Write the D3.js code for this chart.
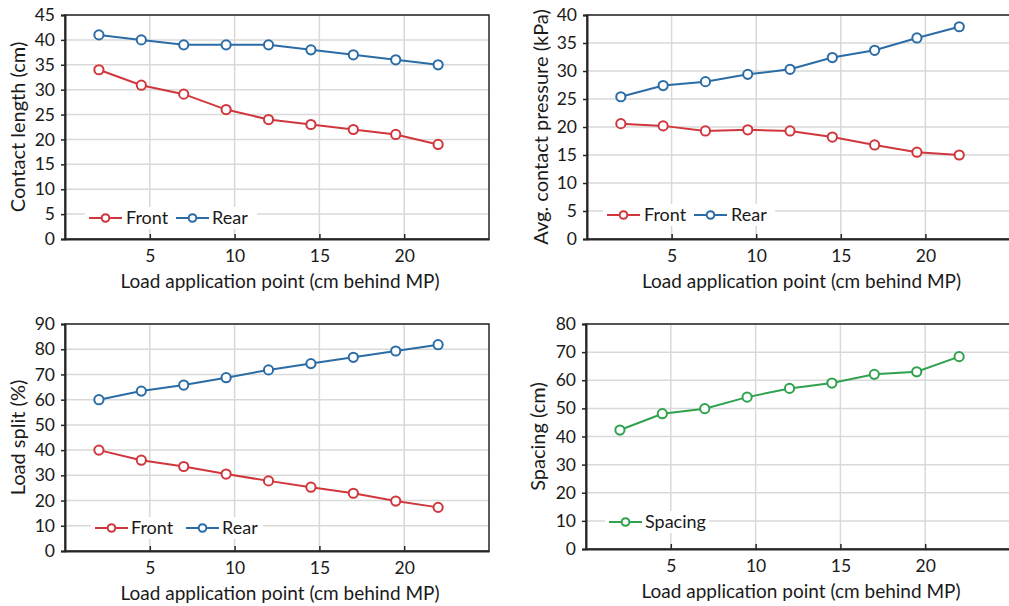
<!DOCTYPE html>
<html>
<head>
<meta charset="utf-8">
<script src="https://cdn.jsdelivr.net/npm/d3@7"></script>
<style>
  html, body { margin: 0; padding: 0; background: #fff; }
  svg { display: block; font-family: Lato, "Open Sans", sans-serif; }
</style>
</head>
<body>
<svg id="chart" width="1009" height="606"></svg>
<script>
// ---------- data ----------
const loadPoints = [2, 4.5, 7, 9.5, 12, 14.5, 17, 19.5, 22];
const xTicks = [5, 10, 15, 20];
const xTitle = "Load application point (cm behind MP)";

const contactFront = [34, 30.9, 29.1, 26, 24, 23, 22, 21, 19];
const contactRear  = [41, 40, 39, 39, 39, 38, 37, 36, 35];
const contactTicks = [0, 5, 10, 15, 20, 25, 30, 35, 40, 45];

const pressureFront = [20.6, 20.2, 19.3, 19.5, 19.3, 18.2, 16.8, 15.5, 15.0];
const pressureRear  = [25.4, 27.4, 28.1, 29.4, 30.3, 32.4, 33.7, 35.9, 37.9];
const pressureTicks = [0, 5, 10, 15, 20, 25, 30, 35, 40];

const splitFront = [40, 36, 33.5, 30.5, 27.8, 25.3, 22.9, 19.8, 17.3];
const splitRear  = [60, 63.4, 65.8, 68.7, 71.8, 74.3, 76.8, 79.3, 81.8];
const splitTicks = [0, 10, 20, 30, 40, 50, 60, 70, 80, 90];

const spacingValues = [42.3, 48.1, 49.9, 54, 57.1, 59, 62.1, 63, 68.4];
const spacingTicks = [0, 10, 20, 30, 40, 50, 60, 70, 80];

const seriesNames = ["Front", "Rear", "Spacing"];
const yTitles = ["Contact length (cm)", "Avg. contact pressure (kPa)", "Load split (%)", "Spacing (cm)"];

// ---------- style ----------
const RED = "#d0373c", BLUE = "#2b6ca6", GREEN = "#2fa24e";
const TEXT = "#1a1a1a", GRID = "#d9d9d9", AXIS = "#262626";

const svg = d3.select("#chart");

const panels = [
  { box: {l: 65, t: 15, r: 489, b: 239}, ticks: contactTicks, title: yTitles[0], titleX: 18,
    series: [{name: seriesNames[0], values: contactFront, color: RED}, {name: seriesNames[1], values: contactRear, color: BLUE}],
    legend: {x: 85, y: 218, w: 172, items: [{lx: 89, tx: 126}, {lx: 176, tx: 212}]} },
  { box: {l: 587, t: 15, r: 1010, b: 239}, ticks: pressureTicks, title: yTitles[1], titleX: 541,
    series: [{name: seriesNames[0], values: pressureFront, color: RED}, {name: seriesNames[1], values: pressureRear, color: BLUE}],
    legend: {x: 603, y: 215, w: 172, items: [{lx: 607, tx: 644}, {lx: 694, tx: 731}]} },
  { box: {l: 65, t: 324, r: 489, b: 551}, ticks: splitTicks, title: yTitles[2], titleX: 18,
    series: [{name: seriesNames[0], values: splitFront, color: RED}, {name: seriesNames[1], values: splitRear, color: BLUE}],
    legend: {x: 91, y: 528, w: 172, items: [{lx: 95, tx: 131}, {lx: 186, tx: 222}]} },
  { box: {l: 586, t: 324, r: 1010, b: 549}, ticks: spacingTicks, title: yTitles[3], titleX: 538,
    series: [{name: seriesNames[2], values: spacingValues, color: GREEN}],
    legend: {x: 605, y: 522, w: 104, items: [{lx: 609, tx: 645}]} }
];

panels.forEach(p => {
  const {l, t, r, b} = p.box;
  const g = svg.append("g");
  const x = d3.scaleLinear().domain([0, 25]).range([l, r]);
  const y = d3.scaleLinear().domain([0, d3.max(p.ticks)]).range([b, t]);

  g.append("g").selectAll("line").data(p.ticks.filter(v => v > 0)).join("line")
    .attr("x1", l).attr("x2", r).attr("y1", d => y(d)).attr("y2", d => y(d))
    .attr("stroke", GRID).attr("stroke-width", 1.5);
  g.append("g").selectAll("line").data(xTicks).join("line")
    .attr("x1", d => x(d)).attr("x2", d => x(d)).attr("y1", t).attr("y2", b)
    .attr("stroke", GRID).attr("stroke-width", 1.5);

  g.append("rect").attr("x", l).attr("y", t).attr("width", r - l).attr("height", b - t)
    .attr("fill", "none").attr("stroke", AXIS).attr("stroke-width", 1.5);

  const yAxis = d3.axisLeft(y).tickValues(p.ticks).tickSize(4).tickPadding(6).tickFormat(d3.format("d"));
  const ya = g.append("g").attr("transform", `translate(${l},0)`).call(yAxis);
  ya.select(".domain").attr("stroke", AXIS).attr("stroke-width", 2);
  ya.selectAll(".tick line").attr("stroke", AXIS).attr("stroke-width", 1.5);
  ya.selectAll(".tick text").attr("fill", TEXT).style("font-size", "17.5px").style("font-family", "Lato");

  const xAxis = d3.axisBottom(x).tickValues(xTicks).tickSize(-5).tickPadding(11).tickSizeOuter(0);
  const xa = g.append("g").attr("transform", `translate(0,${b})`).call(xAxis);
  xa.select(".domain").attr("stroke", AXIS).attr("stroke-width", 2);
  xa.selectAll(".tick line").attr("stroke", AXIS).attr("stroke-width", 1.5);
  xa.selectAll(".tick text").attr("fill", TEXT).style("font-size", "17.5px").style("font-family", "Lato");

  g.append("text").attr("x", (l + r) / 2 + 3).attr("y", b + 49).attr("text-anchor", "middle")
    .attr("fill", TEXT).style("font-size", "19px").text(xTitle);
  g.append("text").attr("transform", `translate(${p.titleX},${(t + b) / 2}) rotate(-90)`)
    .attr("text-anchor", "middle").attr("dy", "0.35em")
    .attr("fill", TEXT).style("font-size", "20px").text(p.title);

  const line = d3.line().x((d, i) => x(loadPoints[i])).y(d => y(d));
  p.series.forEach(s => {
    g.append("path").datum(s.values).attr("d", line)
      .attr("fill", "none").attr("stroke", s.color).attr("stroke-width", 2);
    g.append("g").selectAll("circle").data(s.values).join("circle")
      .attr("cx", (d, i) => x(loadPoints[i])).attr("cy", d => y(d)).attr("r", 4.6)
      .attr("fill", "#fff").attr("stroke", s.color).attr("stroke-width", 2);
  });

  const lg = g.append("g");
  lg.append("rect").attr("x", p.legend.x).attr("y", p.legend.y - 11).attr("width", p.legend.w).attr("height", 22)
    .attr("fill", "#fff");
  p.series.forEach((s, i) => {
    const it = p.legend.items[i];
    lg.append("line").attr("x1", it.lx).attr("x2", it.lx + 33).attr("y1", p.legend.y).attr("y2", p.legend.y)
      .attr("stroke", s.color).attr("stroke-width", 2);
    lg.append("circle").attr("cx", it.lx + 16.5).attr("cy", p.legend.y).attr("r", 3.8)
      .attr("fill", "#fff").attr("stroke", s.color).attr("stroke-width", 2);
    lg.append("text").attr("x", it.tx).attr("y", p.legend.y).attr("dy", "0.35em")
      .attr("fill", TEXT).style("font-size", "18px").text(s.name);
  });
});
</script>
</body>
</html>
